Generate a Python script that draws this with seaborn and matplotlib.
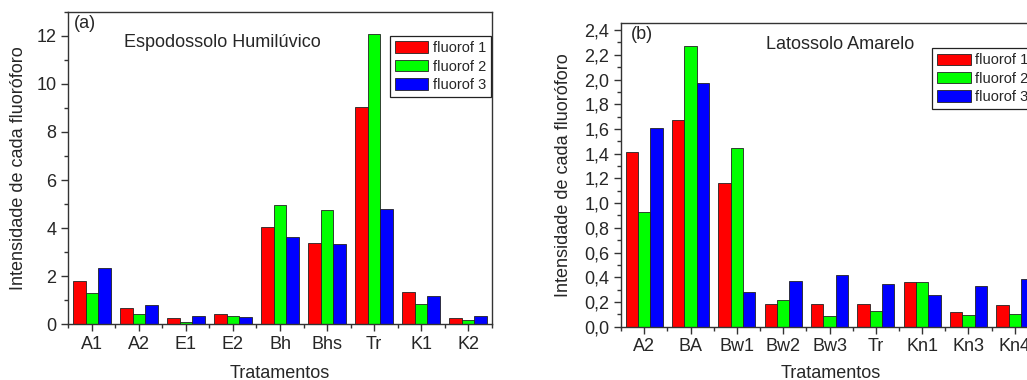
import matplotlib
matplotlib.use("Agg")
import matplotlib.pyplot as plt
import matplotlib.ticker as mticker
import numpy as np
import pandas as pd
import seaborn as sns

# Panel (a): Espodossolo Humilúvico
cats_a = ["A1", "A2", "E1", "E2", "Bh", "Bhs", "Tr", "K1", "K2"]
f1_a = [1.80, 0.67, 0.25, 0.42, 4.03, 3.40, 9.05, 1.33, 0.26]
f2_a = [1.32, 0.42, 0.11, 0.35, 4.98, 4.74, 12.08, 0.85, 0.18]
f3_a = [2.36, 0.80, 0.36, 0.30, 3.63, 3.34, 4.81, 1.17, 0.36]

# Panel (b): Latossolo Amarelo
cats_b = ["A2", "BA", "Bw1", "Bw2", "Bw3", "Tr", "Kn1", "Kn3", "Kn4"]
f1_b = [1.416, 1.67, 1.16, 0.185, 0.185, 0.18, 0.365, 0.117, 0.175]
f2_b = [0.93, 2.27, 1.445, 0.217, 0.084, 0.125, 0.365, 0.093, 0.10]
f3_b = [1.61, 1.97, 0.28, 0.37, 0.42, 0.345, 0.256, 0.333, 0.384]

series_names = ["fluorof 1", "fluorof 2", "fluorof 3"]
colors = ["#ff0000", "#00ff00", "#0000ff"]

FS = 13        # axis, tick and title text
FS_LEG = 10.5  # legend text

sns.set_theme(style="white")
plt.rcParams["font.family"] = ["Liberation Sans", "DejaVu Sans"]
plt.rcParams["font.size"] = FS


def long_frame(cats, s1, s2, s3):
    rows = []
    for name, vals in zip(series_names, (s1, s2, s3)):
        for c, v in zip(cats, vals):
            rows.append({"Tratamento": c, "Fluoroforo": name, "Intensidade": v})
    return pd.DataFrame(rows)


def style_axes(ax):
    for sp in ax.spines.values():
        sp.set_visible(True)
        sp.set_color("#333333")
        sp.set_linewidth(1.0)
    ax.tick_params(axis="both", which="major", direction="out", length=5,
                   width=1.0, color="#333333", labelsize=FS, pad=3.5,
                   bottom=True, left=True, top=False, right=False)
    ax.tick_params(axis="both", which="minor", direction="out", length=3,
                   width=1.0, color="#333333",
                   bottom=True, left=True, top=False, right=False)
    ax.xaxis.set_minor_locator(mticker.FixedLocator(np.arange(-0.5, 9.0, 1.0)))


fig = plt.figure(figsize=(10.27, 3.80), dpi=100)
ax_a = fig.add_axes([0.0665, 0.1466, 0.4123, 0.8226])
ax_b = fig.add_axes([0.6047, 0.1403, 0.4060, 0.8000])

panels = [
    (ax_a, long_frame(cats_a, f1_a, f2_a, f3_a), cats_a),
    (ax_b, long_frame(cats_b, f1_b, f2_b, f3_b), cats_b),
]

for ax, df, cats in panels:
    sns.barplot(data=df, x="Tratamento", y="Intensidade", hue="Fluoroforo",
                order=cats, hue_order=series_names, palette=colors,
                width=0.8, gap=0, edgecolor="#222222", linewidth=0.6,
                saturation=1, errorbar=None, ax=ax)
    ax.set_xlim(-0.5, 8.5)
    style_axes(ax)
    ax.set_xlabel("Tratamentos", fontsize=FS)
    ax.set_ylabel("Intensidade de cada fluoróforo", fontsize=FS)

# Left panel axis settings
ax_a.set_ylim(0, 13)
ax_a.yaxis.set_major_locator(mticker.MultipleLocator(2))
ax_a.yaxis.set_minor_locator(mticker.MultipleLocator(1))
ax_a.yaxis.set_label_coords(-0.0975, 0.5)
ax_a.xaxis.set_label_coords(0.5, -0.13)

# Right panel axis settings (comma decimals)
ax_b.set_ylim(0, 2.46)
ax_b.yaxis.set_major_locator(mticker.MultipleLocator(0.2))
ax_b.yaxis.set_minor_locator(mticker.MultipleLocator(0.1))
ax_b.yaxis.set_major_formatter(
    mticker.FuncFormatter(lambda v, p: f"{v:.1f}".replace(".", ",")))
ax_b.yaxis.set_label_coords(-0.118, 0.5)
ax_b.xaxis.set_label_coords(0.503, -0.126)

# Panel labels and titles
ax_a.text(0.013, 0.99, "(a)", transform=ax_a.transAxes, ha="left", va="top", fontsize=FS)
ax_a.text(0.132, 0.903, "Espodossolo Humilúvico", transform=ax_a.transAxes,
          ha="left", va="center", fontsize=FS)
ax_b.text(0.023, 0.99, "(b)", transform=ax_b.transAxes, ha="left", va="top", fontsize=FS)
ax_b.text(0.348, 0.929, "Latossolo Amarelo", transform=ax_b.transAxes,
          ha="left", va="center", fontsize=FS)

# Legends
leg_kw = dict(frameon=True, fancybox=False, fontsize=FS_LEG, borderaxespad=0,
              handlelength=2.3, handleheight=0.82, handletextpad=0.3,
              labelspacing=0.3, borderpad=0.35, title=None)
leg_a = ax_a.legend(loc="upper right", bbox_to_anchor=(0.998, 0.922), **leg_kw)
leg_b = ax_b.legend(loc="upper left", bbox_to_anchor=(0.746, 0.916), **leg_kw)
for leg in (leg_a, leg_b):
    fr = leg.get_frame()
    fr.set_edgecolor("#222222")
    fr.set_linewidth(0.9)
    fr.set_alpha(1)

fig.savefig("out.png", dpi=100)
